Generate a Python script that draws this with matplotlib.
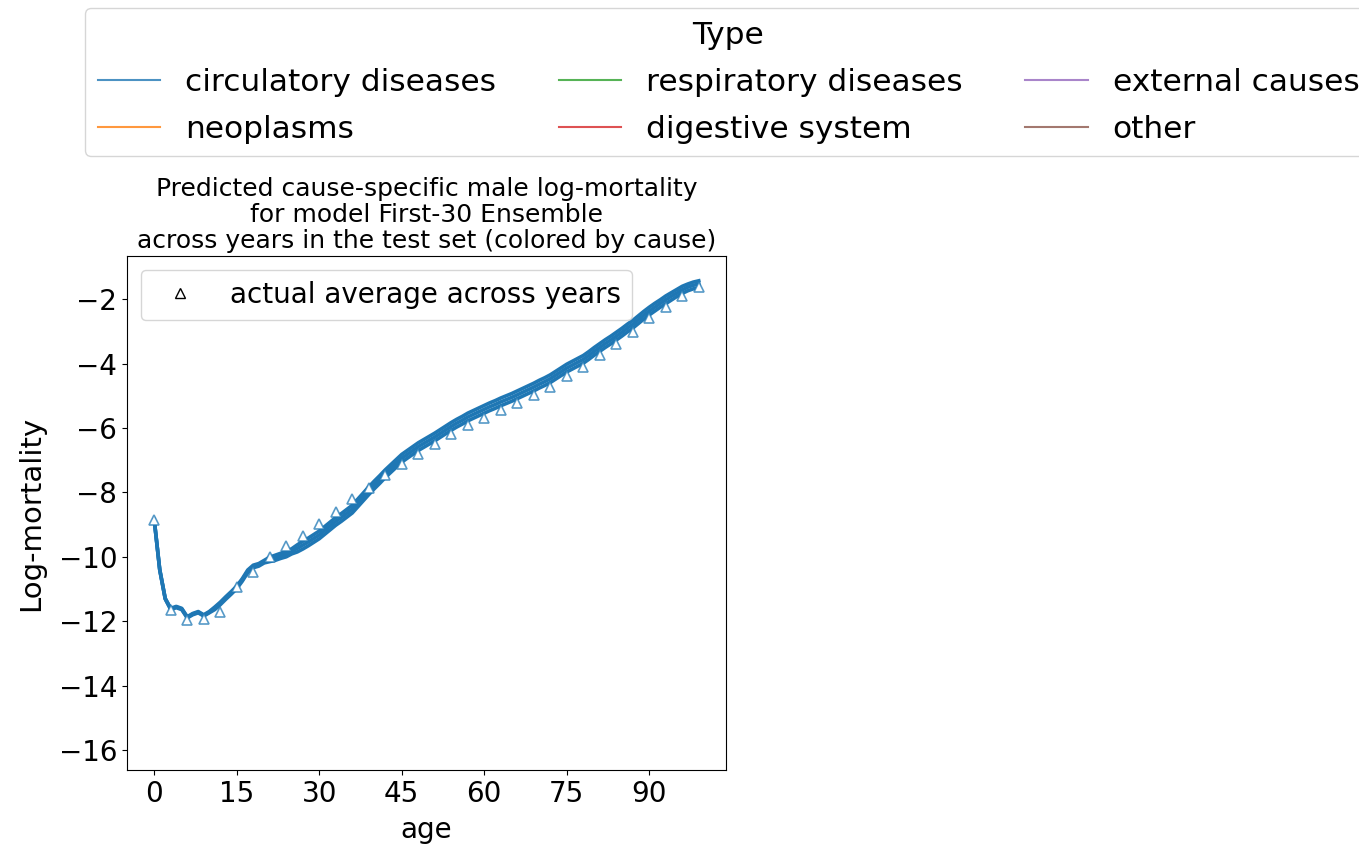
import matplotlib
matplotlib.use("Agg")
import matplotlib.pyplot as plt
from matplotlib.lines import Line2D
import numpy as np

# causes shown in the figure legend (only circulatory has predictions in this panel)
causes = ["circulatory diseases", "neoplasms", "respiratory diseases",
          "digestive system", "external causes", "other"]
cause_colors = ["tab:blue", "tab:orange", "tab:green", "tab:red", "tab:purple", "tab:brown"]

ages = list(range(0, 100))

# predicted circulatory log-mortality for the first, middle and last test year
pred_first = [-8.85, -10.39, -11.29, -11.60, -11.54, -11.60, -11.86, -11.76, -11.70, -11.80,
              -11.70, -11.56, -11.41, -11.24, -11.08, -10.91, -10.68, -10.41, -10.26, -10.21,
              -10.11, -10.01, -9.95, -9.89, -9.84, -9.75, -9.63, -9.52, -9.42, -9.31,
              -9.20, -9.06, -8.92, -8.78, -8.66, -8.53, -8.40, -8.21, -8.02, -7.83,
              -7.65, -7.48, -7.30, -7.14, -6.98, -6.82, -6.70, -6.58, -6.46, -6.36,
              -6.26, -6.16, -6.05, -5.94, -5.83, -5.73, -5.64, -5.54, -5.46, -5.38,
              -5.30, -5.22, -5.15, -5.07, -5.00, -4.93, -4.85, -4.77, -4.69, -4.61,
              -4.52, -4.44, -4.35, -4.24, -4.13, -4.02, -3.93, -3.84, -3.75, -3.63,
              -3.50, -3.38, -3.26, -3.15, -3.03, -2.91, -2.78, -2.66, -2.52, -2.38,
              -2.25, -2.13, -2.02, -1.90, -1.80, -1.70, -1.60, -1.53, -1.47, -1.43]
pred_mid = [-8.85, -10.40, -11.30, -11.62, -11.56, -11.62, -11.88, -11.78, -11.72, -11.82,
            -11.72, -11.60, -11.45, -11.28, -11.12, -10.95, -10.72, -10.45, -10.30, -10.25,
            -10.15, -10.08, -10.03, -9.97, -9.92, -9.83, -9.74, -9.64, -9.54, -9.43,
            -9.32, -9.18, -9.04, -8.90, -8.78, -8.65, -8.52, -8.33, -8.14, -7.95,
            -7.77, -7.60, -7.42, -7.26, -7.10, -6.94, -6.82, -6.70, -6.58, -6.48,
            -6.38, -6.28, -6.17, -6.06, -5.95, -5.85, -5.76, -5.66, -5.58, -5.50,
            -5.42, -5.34, -5.27, -5.19, -5.12, -5.05, -4.97, -4.89, -4.81, -4.73,
            -4.64, -4.56, -4.47, -4.36, -4.25, -4.14, -4.05, -3.96, -3.87, -3.75,
            -3.62, -3.50, -3.38, -3.27, -3.15, -3.03, -2.90, -2.78, -2.64, -2.50,
            -2.37, -2.25, -2.13, -2.02, -1.91, -1.81, -1.71, -1.63, -1.57, -1.53]
pred_last = [-8.85, -10.41, -11.31, -11.64, -11.58, -11.64, -11.90, -11.80, -11.74, -11.84,
             -11.74, -11.64, -11.49, -11.32, -11.16, -10.99, -10.76, -10.49, -10.34, -10.29,
             -10.19, -10.15, -10.11, -10.05, -10.00, -9.91, -9.85, -9.76, -9.66, -9.55,
             -9.44, -9.30, -9.16, -9.02, -8.90, -8.77, -8.64, -8.45, -8.26, -8.07,
             -7.89, -7.72, -7.54, -7.38, -7.22, -7.06, -6.94, -6.82, -6.70, -6.60,
             -6.50, -6.40, -6.29, -6.18, -6.07, -5.97, -5.88, -5.78, -5.70, -5.62,
             -5.54, -5.46, -5.39, -5.31, -5.24, -5.17, -5.09, -5.01, -4.93, -4.85,
             -4.76, -4.68, -4.59, -4.48, -4.37, -4.26, -4.17, -4.08, -3.99, -3.87,
             -3.74, -3.62, -3.50, -3.39, -3.27, -3.15, -3.02, -2.90, -2.76, -2.62,
             -2.49, -2.37, -2.25, -2.14, -2.03, -1.92, -1.82, -1.74, -1.68, -1.64]

# observed average over the test years, every third age
actual_ages = list(range(0, 100, 3))
actual_avg = [-8.85, -11.66, -11.95, -11.94, -11.71, -10.95, -10.47, -10.02, -9.65, -9.34,
              -8.99, -8.60, -8.21, -7.85, -7.47, -7.12, -6.80, -6.50, -6.19, -5.91,
              -5.68, -5.44, -5.22, -4.98, -4.72, -4.39, -4.12, -3.74, -3.40, -3.03,
              -2.60, -2.25, -1.91, -1.63]

xticks = [0, 15, 30, 45, 60, 75, 90]
yticks = [-16, -14, -12, -10, -8, -6, -4, -2]

W, H = 1359, 846
fig = plt.figure(figsize=(W / 100, H / 100), dpi=100)
ax = fig.add_axes([127 / W, 1 - 770 / H, (726 - 127) / W, (770 - 256) / H])

for curve in (pred_first, pred_mid, pred_last):
    ax.plot(ages, curve, color="tab:blue", lw=2.6, solid_joinstyle="round")

ax.plot(actual_ages, actual_avg, linestyle="none", marker="^", markersize=7,
        markerfacecolor="white", markeredgecolor=(0.12, 0.47, 0.71, 0.75), markeredgewidth=1.2)

ax.set_xlim(-4.95, 103.95)
ax.set_ylim(-16.62, -0.66)
ax.set_xticks(xticks)
ax.set_yticks(yticks)
ax.tick_params(labelsize=20)
ax.set_xlabel("age", fontsize=20, labelpad=6)
ax.set_ylabel("Log-mortality", fontsize=21, labelpad=10)
ax.set_title("Predicted cause-specific male log-mortality\nfor model First-30 Ensemble\n"
             "across years in the test set (colored by cause)", fontsize=18, linespacing=1.1)

tri = Line2D([], [], linestyle="none", marker="^", markersize=7,
             markerfacecolor="white", markeredgecolor="black", markeredgewidth=1.0)
ax.legend([tri], ["actual average across years"], loc="upper left", fontsize=20)

# the legend runs past the right edge of the figure
handles = [Line2D([], [], color=c, lw=1.5, alpha=0.8) for c in cause_colors]
fig.legend(handles, causes, title="Type", title_fontsize=22.5, fontsize=22.5, ncol=3,
           loc="upper left", bbox_to_anchor=(85 / W, 1 - 8 / H), borderaxespad=0,
           labelspacing=0.58)

fig.savefig("out.png", dpi=100)
